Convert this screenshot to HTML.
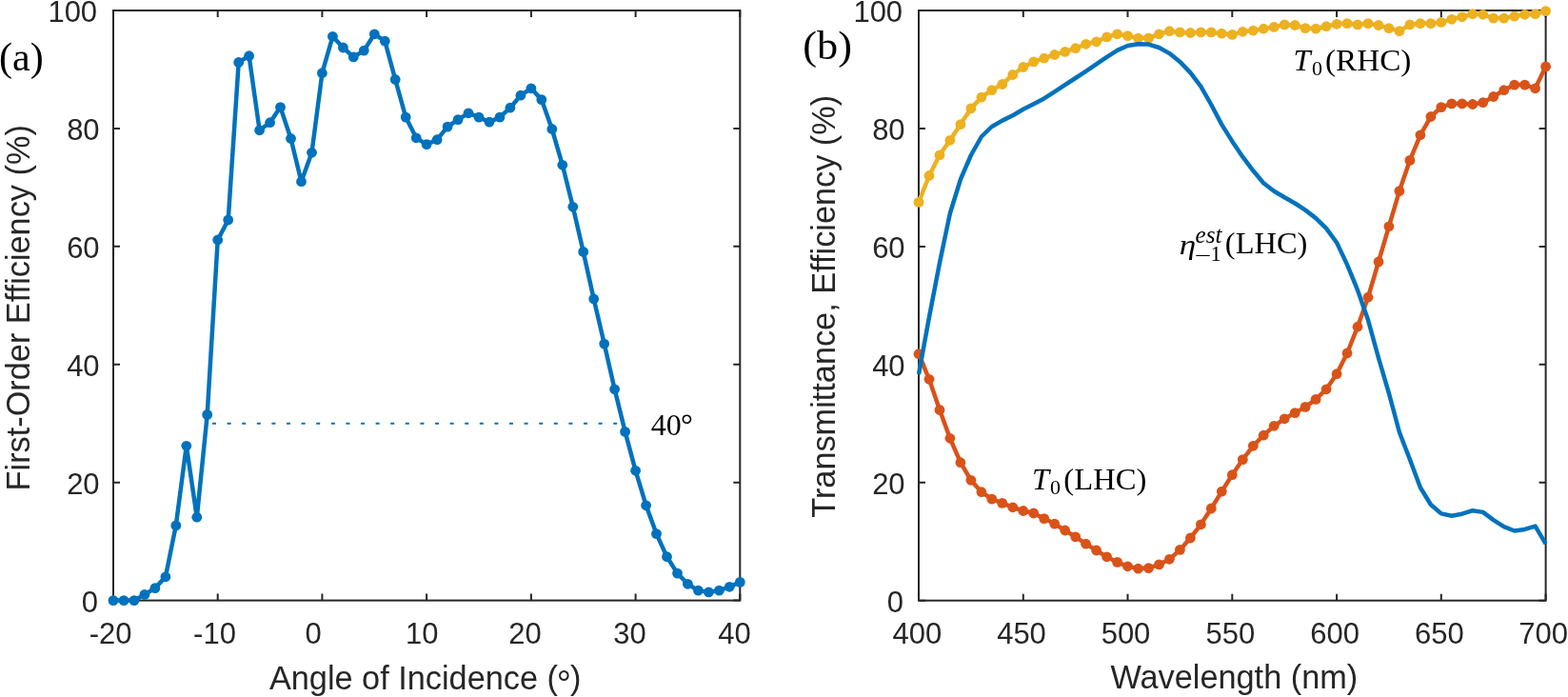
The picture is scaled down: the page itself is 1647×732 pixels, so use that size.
<!DOCTYPE html><html><head><meta charset="utf-8"><title>Efficiency plots</title><style>html,body{margin:0;padding:0;background:#fff;overflow:hidden;}svg{display:block;}.t{font-family:"Liberation Sans",Arial,sans-serif;fill:#262626;}.s{font-family:"Liberation Serif","Times New Roman",serif;fill:#000;}</style></head><body>
<svg width="1647" height="732" viewBox="0 0 1647 732">
<rect width="1647" height="732" fill="#fff"/>
<path d="M119.0 630.6v-7 M119.0 11.0v7 M228.7 630.6v-7 M228.7 11.0v7 M338.4 630.6v-7 M338.4 11.0v7 M448.1 630.6v-7 M448.1 11.0v7 M557.9 630.6v-7 M557.9 11.0v7 M667.6 630.6v-7 M667.6 11.0v7 M777.3 630.6v-7 M777.3 11.0v7 M119.0 630.6h7 M777.3 630.6h-7 M119.0 506.7h7 M777.3 506.7h-7 M119.0 382.8h7 M777.3 382.8h-7 M119.0 258.8h7 M777.3 258.8h-7 M119.0 134.9h7 M777.3 134.9h-7 M119.0 11.0h7 M777.3 11.0h-7 " stroke="#262626" stroke-width="2" fill="none"/><rect x="119.0" y="11.0" width="658.3" height="619.6" stroke="#262626" stroke-width="2" fill="none"/>
<path d="M965.0 630.7v-7 M965.0 11.0v7 M1074.8 630.7v-7 M1074.8 11.0v7 M1184.5 630.7v-7 M1184.5 11.0v7 M1294.3 630.7v-7 M1294.3 11.0v7 M1404.1 630.7v-7 M1404.1 11.0v7 M1513.8 630.7v-7 M1513.8 11.0v7 M1623.6 630.7v-7 M1623.6 11.0v7 M965.0 630.7h7 M1623.6 630.7h-7 M965.0 506.8h7 M1623.6 506.8h-7 M965.0 382.8h7 M1623.6 382.8h-7 M965.0 258.9h7 M1623.6 258.9h-7 M965.0 134.9h7 M1623.6 134.9h-7 M965.0 11.0h7 M1623.6 11.0h-7 " stroke="#262626" stroke-width="2" fill="none"/><rect x="965.0" y="11.0" width="658.6" height="619.7" stroke="#262626" stroke-width="2" fill="none"/>
<line x1="223" y1="444.7" x2="650" y2="444.7" stroke="#0072BD" stroke-width="2" stroke-dasharray="4 11.6"/>
<polyline points="119.0,630.6 130.0,630.6 140.9,630.6 151.9,624.4 162.9,617.6 173.9,605.8 184.8,551.9 195.8,468.3 206.8,543.2 217.7,435.4 228.7,252.0 239.7,231.0 250.7,65.5 261.6,58.7 272.6,136.8 283.6,128.7 294.5,112.6 305.5,145.5 316.5,190.7 327.5,160.3 338.4,76.7 349.4,38.3 360.4,50.0 371.3,59.9 382.3,53.1 393.3,35.8 404.3,43.2 415.2,83.5 426.2,123.1 437.2,144.8 448.1,151.6 459.1,146.7 470.1,133.1 481.1,125.6 492.0,118.8 503.0,123.1 514.0,128.1 525.0,123.1 535.9,113.2 546.9,100.2 557.9,92.8 568.8,104.6 579.8,135.5 590.8,173.3 601.8,217.3 612.7,264.4 623.7,314.0 634.7,361.1 645.6,408.8 656.6,453.4 667.6,494.3 678.6,530.8 689.5,560.6 700.5,584.7 711.5,602.1 722.4,613.3 733.4,620.1 744.4,621.9 755.4,620.1 766.3,616.3 777.3,611.4" fill="none" stroke="#0072BD" stroke-width="4.5" stroke-linejoin="round"/>
<g fill="#0072BD"><circle cx="119.0" cy="630.6" r="5.4"/><circle cx="130.0" cy="630.6" r="5.4"/><circle cx="140.9" cy="630.6" r="5.4"/><circle cx="151.9" cy="624.4" r="5.4"/><circle cx="162.9" cy="617.6" r="5.4"/><circle cx="173.9" cy="605.8" r="5.4"/><circle cx="184.8" cy="551.9" r="5.4"/><circle cx="195.8" cy="468.3" r="5.4"/><circle cx="206.8" cy="543.2" r="5.4"/><circle cx="217.7" cy="435.4" r="5.4"/><circle cx="228.7" cy="252.0" r="5.4"/><circle cx="239.7" cy="231.0" r="5.4"/><circle cx="250.7" cy="65.5" r="5.4"/><circle cx="261.6" cy="58.7" r="5.4"/><circle cx="272.6" cy="136.8" r="5.4"/><circle cx="283.6" cy="128.7" r="5.4"/><circle cx="294.5" cy="112.6" r="5.4"/><circle cx="305.5" cy="145.5" r="5.4"/><circle cx="316.5" cy="190.7" r="5.4"/><circle cx="327.5" cy="160.3" r="5.4"/><circle cx="338.4" cy="76.7" r="5.4"/><circle cx="349.4" cy="38.3" r="5.4"/><circle cx="360.4" cy="50.0" r="5.4"/><circle cx="371.3" cy="59.9" r="5.4"/><circle cx="382.3" cy="53.1" r="5.4"/><circle cx="393.3" cy="35.8" r="5.4"/><circle cx="404.3" cy="43.2" r="5.4"/><circle cx="415.2" cy="83.5" r="5.4"/><circle cx="426.2" cy="123.1" r="5.4"/><circle cx="437.2" cy="144.8" r="5.4"/><circle cx="448.1" cy="151.6" r="5.4"/><circle cx="459.1" cy="146.7" r="5.4"/><circle cx="470.1" cy="133.1" r="5.4"/><circle cx="481.1" cy="125.6" r="5.4"/><circle cx="492.0" cy="118.8" r="5.4"/><circle cx="503.0" cy="123.1" r="5.4"/><circle cx="514.0" cy="128.1" r="5.4"/><circle cx="525.0" cy="123.1" r="5.4"/><circle cx="535.9" cy="113.2" r="5.4"/><circle cx="546.9" cy="100.2" r="5.4"/><circle cx="557.9" cy="92.8" r="5.4"/><circle cx="568.8" cy="104.6" r="5.4"/><circle cx="579.8" cy="135.5" r="5.4"/><circle cx="590.8" cy="173.3" r="5.4"/><circle cx="601.8" cy="217.3" r="5.4"/><circle cx="612.7" cy="264.4" r="5.4"/><circle cx="623.7" cy="314.0" r="5.4"/><circle cx="634.7" cy="361.1" r="5.4"/><circle cx="645.6" cy="408.8" r="5.4"/><circle cx="656.6" cy="453.4" r="5.4"/><circle cx="667.6" cy="494.3" r="5.4"/><circle cx="678.6" cy="530.8" r="5.4"/><circle cx="689.5" cy="560.6" r="5.4"/><circle cx="700.5" cy="584.7" r="5.4"/><circle cx="711.5" cy="602.1" r="5.4"/><circle cx="722.4" cy="613.3" r="5.4"/><circle cx="733.4" cy="620.1" r="5.4"/><circle cx="744.4" cy="621.9" r="5.4"/><circle cx="755.4" cy="620.1" r="5.4"/><circle cx="766.3" cy="616.3" r="5.4"/><circle cx="777.3" cy="611.4" r="5.4"/></g>
<polyline points="965.0,212.4 976.0,184.5 987.0,162.8 997.9,147.3 1008.9,130.6 1019.9,113.9 1030.9,102.1 1041.8,94.7 1052.8,88.5 1063.8,78.5 1074.8,70.5 1085.7,64.9 1096.7,61.2 1107.7,57.5 1118.7,54.4 1129.7,50.7 1140.6,46.3 1151.6,43.8 1162.6,38.9 1173.6,35.8 1184.5,37.6 1195.5,40.1 1206.5,40.1 1217.5,35.8 1228.4,32.7 1239.4,33.9 1250.4,34.5 1261.4,33.9 1272.3,33.9 1283.3,35.2 1294.3,36.4 1305.3,33.3 1316.3,32.1 1327.2,30.2 1338.2,28.4 1349.2,25.9 1360.2,26.5 1371.1,29.6 1382.1,30.2 1393.1,27.7 1404.1,25.3 1415.0,24.6 1426.0,25.9 1437.0,24.6 1448.0,26.5 1458.9,29.6 1469.9,32.7 1480.9,25.9 1491.9,24.6 1502.9,24.6 1513.8,23.4 1524.8,20.3 1535.8,17.8 1546.8,14.7 1557.7,15.3 1568.7,19.1 1579.7,19.1 1590.7,17.2 1601.6,15.3 1612.6,14.7 1623.6,11.6" fill="none" stroke="#EDB120" stroke-width="4.5" stroke-linejoin="round"/>
<g fill="#EDB120"><circle cx="965.0" cy="212.4" r="5.4"/><circle cx="976.0" cy="184.5" r="5.4"/><circle cx="987.0" cy="162.8" r="5.4"/><circle cx="997.9" cy="147.3" r="5.4"/><circle cx="1008.9" cy="130.6" r="5.4"/><circle cx="1019.9" cy="113.9" r="5.4"/><circle cx="1030.9" cy="102.1" r="5.4"/><circle cx="1041.8" cy="94.7" r="5.4"/><circle cx="1052.8" cy="88.5" r="5.4"/><circle cx="1063.8" cy="78.5" r="5.4"/><circle cx="1074.8" cy="70.5" r="5.4"/><circle cx="1085.7" cy="64.9" r="5.4"/><circle cx="1096.7" cy="61.2" r="5.4"/><circle cx="1107.7" cy="57.5" r="5.4"/><circle cx="1118.7" cy="54.4" r="5.4"/><circle cx="1129.7" cy="50.7" r="5.4"/><circle cx="1140.6" cy="46.3" r="5.4"/><circle cx="1151.6" cy="43.8" r="5.4"/><circle cx="1162.6" cy="38.9" r="5.4"/><circle cx="1173.6" cy="35.8" r="5.4"/><circle cx="1184.5" cy="37.6" r="5.4"/><circle cx="1195.5" cy="40.1" r="5.4"/><circle cx="1206.5" cy="40.1" r="5.4"/><circle cx="1217.5" cy="35.8" r="5.4"/><circle cx="1228.4" cy="32.7" r="5.4"/><circle cx="1239.4" cy="33.9" r="5.4"/><circle cx="1250.4" cy="34.5" r="5.4"/><circle cx="1261.4" cy="33.9" r="5.4"/><circle cx="1272.3" cy="33.9" r="5.4"/><circle cx="1283.3" cy="35.2" r="5.4"/><circle cx="1294.3" cy="36.4" r="5.4"/><circle cx="1305.3" cy="33.3" r="5.4"/><circle cx="1316.3" cy="32.1" r="5.4"/><circle cx="1327.2" cy="30.2" r="5.4"/><circle cx="1338.2" cy="28.4" r="5.4"/><circle cx="1349.2" cy="25.9" r="5.4"/><circle cx="1360.2" cy="26.5" r="5.4"/><circle cx="1371.1" cy="29.6" r="5.4"/><circle cx="1382.1" cy="30.2" r="5.4"/><circle cx="1393.1" cy="27.7" r="5.4"/><circle cx="1404.1" cy="25.3" r="5.4"/><circle cx="1415.0" cy="24.6" r="5.4"/><circle cx="1426.0" cy="25.9" r="5.4"/><circle cx="1437.0" cy="24.6" r="5.4"/><circle cx="1448.0" cy="26.5" r="5.4"/><circle cx="1458.9" cy="29.6" r="5.4"/><circle cx="1469.9" cy="32.7" r="5.4"/><circle cx="1480.9" cy="25.9" r="5.4"/><circle cx="1491.9" cy="24.6" r="5.4"/><circle cx="1502.9" cy="24.6" r="5.4"/><circle cx="1513.8" cy="23.4" r="5.4"/><circle cx="1524.8" cy="20.3" r="5.4"/><circle cx="1535.8" cy="17.8" r="5.4"/><circle cx="1546.8" cy="14.7" r="5.4"/><circle cx="1557.7" cy="15.3" r="5.4"/><circle cx="1568.7" cy="19.1" r="5.4"/><circle cx="1579.7" cy="19.1" r="5.4"/><circle cx="1590.7" cy="17.2" r="5.4"/><circle cx="1601.6" cy="15.3" r="5.4"/><circle cx="1612.6" cy="14.7" r="5.4"/><circle cx="1623.6" cy="11.6" r="5.4"/></g>
<polyline points="965.0,371.7 976.0,398.3 987.0,430.5 997.9,460.3 1008.9,485.7 1019.9,504.3 1030.9,516.7 1041.8,524.1 1052.8,528.4 1063.8,532.8 1074.8,536.5 1085.7,539.0 1096.7,544.6 1107.7,550.1 1118.7,557.0 1129.7,563.8 1140.6,571.2 1151.6,578.0 1162.6,584.8 1173.6,590.4 1184.5,594.8 1195.5,597.2 1206.5,596.6 1217.5,592.9 1228.4,587.3 1239.4,577.4 1250.4,565.0 1261.4,550.8 1272.3,534.0 1283.3,516.1 1294.3,498.7 1305.3,482.6 1316.3,468.3 1327.2,457.2 1338.2,447.3 1349.2,439.8 1360.2,433.6 1371.1,427.4 1382.1,419.4 1393.1,408.8 1404.1,392.7 1415.0,371.0 1426.0,343.2 1437.0,312.2 1448.0,275.0 1458.9,237.8 1469.9,200.6 1480.9,168.4 1491.9,141.8 1502.9,122.5 1513.8,112.6 1524.8,108.9 1535.8,108.9 1546.8,109.5 1557.7,107.7 1568.7,101.5 1579.7,94.7 1590.7,89.1 1601.6,89.1 1612.6,92.8 1623.6,69.9" fill="none" stroke="#D95319" stroke-width="4.5" stroke-linejoin="round"/>
<g fill="#D95319"><circle cx="965.0" cy="371.7" r="5.4"/><circle cx="976.0" cy="398.3" r="5.4"/><circle cx="987.0" cy="430.5" r="5.4"/><circle cx="997.9" cy="460.3" r="5.4"/><circle cx="1008.9" cy="485.7" r="5.4"/><circle cx="1019.9" cy="504.3" r="5.4"/><circle cx="1030.9" cy="516.7" r="5.4"/><circle cx="1041.8" cy="524.1" r="5.4"/><circle cx="1052.8" cy="528.4" r="5.4"/><circle cx="1063.8" cy="532.8" r="5.4"/><circle cx="1074.8" cy="536.5" r="5.4"/><circle cx="1085.7" cy="539.0" r="5.4"/><circle cx="1096.7" cy="544.6" r="5.4"/><circle cx="1107.7" cy="550.1" r="5.4"/><circle cx="1118.7" cy="557.0" r="5.4"/><circle cx="1129.7" cy="563.8" r="5.4"/><circle cx="1140.6" cy="571.2" r="5.4"/><circle cx="1151.6" cy="578.0" r="5.4"/><circle cx="1162.6" cy="584.8" r="5.4"/><circle cx="1173.6" cy="590.4" r="5.4"/><circle cx="1184.5" cy="594.8" r="5.4"/><circle cx="1195.5" cy="597.2" r="5.4"/><circle cx="1206.5" cy="596.6" r="5.4"/><circle cx="1217.5" cy="592.9" r="5.4"/><circle cx="1228.4" cy="587.3" r="5.4"/><circle cx="1239.4" cy="577.4" r="5.4"/><circle cx="1250.4" cy="565.0" r="5.4"/><circle cx="1261.4" cy="550.8" r="5.4"/><circle cx="1272.3" cy="534.0" r="5.4"/><circle cx="1283.3" cy="516.1" r="5.4"/><circle cx="1294.3" cy="498.7" r="5.4"/><circle cx="1305.3" cy="482.6" r="5.4"/><circle cx="1316.3" cy="468.3" r="5.4"/><circle cx="1327.2" cy="457.2" r="5.4"/><circle cx="1338.2" cy="447.3" r="5.4"/><circle cx="1349.2" cy="439.8" r="5.4"/><circle cx="1360.2" cy="433.6" r="5.4"/><circle cx="1371.1" cy="427.4" r="5.4"/><circle cx="1382.1" cy="419.4" r="5.4"/><circle cx="1393.1" cy="408.8" r="5.4"/><circle cx="1404.1" cy="392.7" r="5.4"/><circle cx="1415.0" cy="371.0" r="5.4"/><circle cx="1426.0" cy="343.2" r="5.4"/><circle cx="1437.0" cy="312.2" r="5.4"/><circle cx="1448.0" cy="275.0" r="5.4"/><circle cx="1458.9" cy="237.8" r="5.4"/><circle cx="1469.9" cy="200.6" r="5.4"/><circle cx="1480.9" cy="168.4" r="5.4"/><circle cx="1491.9" cy="141.8" r="5.4"/><circle cx="1502.9" cy="122.5" r="5.4"/><circle cx="1513.8" cy="112.6" r="5.4"/><circle cx="1524.8" cy="108.9" r="5.4"/><circle cx="1535.8" cy="108.9" r="5.4"/><circle cx="1546.8" cy="109.5" r="5.4"/><circle cx="1557.7" cy="107.7" r="5.4"/><circle cx="1568.7" cy="101.5" r="5.4"/><circle cx="1579.7" cy="94.7" r="5.4"/><circle cx="1590.7" cy="89.1" r="5.4"/><circle cx="1601.6" cy="89.1" r="5.4"/><circle cx="1612.6" cy="92.8" r="5.4"/><circle cx="1623.6" cy="69.9" r="5.4"/></g>
<polyline points="965.0,393.0 976.0,333.0 987.0,276.0 997.9,224.0 1008.9,188.5 1019.9,163.0 1030.9,143.5 1041.8,133.0 1052.8,126.6 1063.8,121.3 1074.8,114.8 1085.7,109.2 1096.7,103.4 1107.7,96.3 1118.7,89.1 1129.7,82.0 1140.6,74.9 1151.6,67.4 1162.6,59.9 1173.6,52.9 1184.5,48.0 1195.5,46.3 1206.5,46.6 1217.5,50.0 1228.4,56.1 1239.4,64.9 1250.4,76.4 1261.4,90.8 1272.3,110.0 1283.3,130.9 1294.3,148.4 1305.3,164.7 1316.3,179.3 1327.2,192.2 1338.2,200.7 1349.2,207.2 1360.2,213.5 1371.1,220.6 1382.1,229.1 1393.1,239.9 1404.1,254.8 1415.0,277.9 1426.0,304.7 1437.0,336.0 1448.0,376.0 1458.9,413.0 1469.9,454.0 1480.9,482.5 1491.9,512.0 1502.9,530.0 1513.8,539.4 1524.8,541.7 1535.8,539.7 1546.8,536.2 1557.7,537.9 1568.7,546.1 1579.7,553.2 1590.7,557.5 1601.6,555.9 1612.6,552.6 1623.6,571.2" fill="none" stroke="#0072BD" stroke-width="4.5" stroke-linejoin="round"/>
<text class="t" font-size="31" text-anchor="middle" transform="translate(116.1,676.2) scale(1,1.035)">-20</text>
<text class="t" font-size="31" text-anchor="middle" transform="translate(225.5,676.2) scale(1,1.035)">-10</text>
<text class="t" font-size="31" text-anchor="middle" transform="translate(329.2,676.2) scale(1,1.035)">0</text>
<text class="t" font-size="31" text-anchor="middle" transform="translate(443.2,676.2) scale(1,1.035)">10</text>
<text class="t" font-size="31" text-anchor="middle" transform="translate(551.5,676.2) scale(1,1.035)">20</text>
<text class="t" font-size="31" text-anchor="middle" transform="translate(661.6,676.2) scale(1,1.035)">30</text>
<text class="t" font-size="31" text-anchor="middle" transform="translate(771.5,676.2) scale(1,1.035)">40</text>
<text class="t" font-size="31" text-anchor="middle" transform="translate(963.3,676.2) scale(1,1.035)">400</text>
<text class="t" font-size="31" text-anchor="middle" transform="translate(1073.0,676.2) scale(1,1.035)">450</text>
<text class="t" font-size="31" text-anchor="middle" transform="translate(1182.5,676.2) scale(1,1.035)">500</text>
<text class="t" font-size="31" text-anchor="middle" transform="translate(1292.4,676.2) scale(1,1.035)">550</text>
<text class="t" font-size="31" text-anchor="middle" transform="translate(1402.2,676.2) scale(1,1.035)">600</text>
<text class="t" font-size="31" text-anchor="middle" transform="translate(1511.9,676.2) scale(1,1.035)">650</text>
<text class="t" font-size="31" text-anchor="middle" transform="translate(1621.2,676.2) scale(1,1.035)">700</text>
<text class="t" font-size="31" text-anchor="end" transform="translate(103.0,642.8) scale(1,1.035)">0</text>
<text class="t" font-size="31" text-anchor="end" transform="translate(949.0,642.9) scale(1,1.035)">0</text>
<text class="t" font-size="31" text-anchor="end" transform="translate(104.6,518.9) scale(1,1.035)">20</text>
<text class="t" font-size="31" text-anchor="end" transform="translate(950.6,519.0) scale(1,1.035)">20</text>
<text class="t" font-size="31" text-anchor="end" transform="translate(104.6,395.0) scale(1,1.035)">40</text>
<text class="t" font-size="31" text-anchor="end" transform="translate(950.6,395.0) scale(1,1.035)">40</text>
<text class="t" font-size="31" text-anchor="end" transform="translate(104.6,271.0) scale(1,1.035)">60</text>
<text class="t" font-size="31" text-anchor="end" transform="translate(950.6,271.1) scale(1,1.035)">60</text>
<text class="t" font-size="31" text-anchor="end" transform="translate(104.6,147.1) scale(1,1.035)">80</text>
<text class="t" font-size="31" text-anchor="end" transform="translate(950.6,147.1) scale(1,1.035)">80</text>
<text class="t" font-size="31" text-anchor="end" transform="translate(102.1,23.2) scale(1,1.035)">100</text>
<text class="t" font-size="31" text-anchor="end" transform="translate(948.1,23.2) scale(1,1.035)">100</text>
<text class="t" font-size="34.3" x="282.9" y="0" transform="translate(0,723.7) scale(1,1.035)">Angle of Incidence (<tspan x="584.8" dy="7.2" font-size="38">&#176;</tspan><tspan x="599.0" dy="-7.2">)</tspan></text>
<text class="t" font-size="34.3" text-anchor="middle" transform="translate(1296.3,722.5) scale(1,1.035)">Wavelength (nm)</text>
<text class="t" font-size="34.3" text-anchor="middle" transform="translate(30.8,323.3) rotate(-90) scale(1,1.035)">First-Order Efficiency (%)</text>
<text class="t" font-size="34.3" text-anchor="middle" transform="translate(876.5,321.8) rotate(-90) scale(1,1.035)">Transmittance, Efficiency (%)</text>
<text class="s" x="-1.0" y="73.8" font-size="42" text-anchor="start">(a)</text>
<text x="843.35" y="62.20" font-family='"Liberation Serif","Times New Roman",serif' font-style="normal" font-size="42.00" fill="#000" textLength="51.70" lengthAdjust="spacingAndGlyphs">(b)</text>
<text x="683.67" y="456.50" font-family='"Liberation Serif","Times New Roman",serif' font-style="normal" font-size="32.00" fill="#000">40</text>
<text x="714.97" y="456.50" font-family='"Liberation Serif","Times New Roman",serif' font-style="normal" font-size="32.00" fill="#000">&#176;</text>
<text x="1358.48" y="74.40" font-family='"Liberation Serif","Times New Roman",serif' font-style="italic" font-size="32.40" fill="#000">T</text><text x="1378.06" y="79.30" font-family='"Liberation Serif","Times New Roman",serif' font-style="normal" font-size="22.00" fill="#000">0</text><text x="1391.94" y="74.40" font-family='"Liberation Serif","Times New Roman",serif' font-style="normal" font-size="32.40" fill="#000" textLength="90.42" lengthAdjust="spacingAndGlyphs">(RHC)</text>
<text x="1083.93" y="514.40" font-family='"Liberation Serif","Times New Roman",serif' font-style="italic" font-size="32.40" fill="#000">T</text><text x="1103.06" y="519.30" font-family='"Liberation Serif","Times New Roman",serif' font-style="normal" font-size="22.00" fill="#000">0</text><text x="1117.37" y="514.40" font-family='"Liberation Serif","Times New Roman",serif' font-style="normal" font-size="32.40" fill="#000" textLength="86.97" lengthAdjust="spacingAndGlyphs">(LHC)</text>
<text x="1238.65" y="266.70" font-family='"Liberation Serif","Times New Roman",serif' font-style="italic" font-size="30.00" fill="#000" textLength="17.41" lengthAdjust="spacingAndGlyphs">&#951;</text>
<text x="1255.63" y="255.30" font-family='"Liberation Serif","Times New Roman",serif' font-style="italic" font-size="24.60" fill="#000" textLength="27.97" lengthAdjust="spacingAndGlyphs">est</text>
<text x="1254.85" y="275.70" font-family='"Liberation Serif","Times New Roman",serif' font-style="normal" font-size="22.70" fill="#000" textLength="17.57" lengthAdjust="spacingAndGlyphs">&#8722;</text>
<text x="1271.60" y="273.90" font-family='"Liberation Serif","Times New Roman",serif' font-style="normal" font-size="22.70" fill="#000">1</text>
<text x="1286.87" y="266.40" font-family='"Liberation Serif","Times New Roman",serif' font-style="normal" font-size="31.20" fill="#000" textLength="86.55" lengthAdjust="spacingAndGlyphs">(LHC)</text>
</svg></body></html>
